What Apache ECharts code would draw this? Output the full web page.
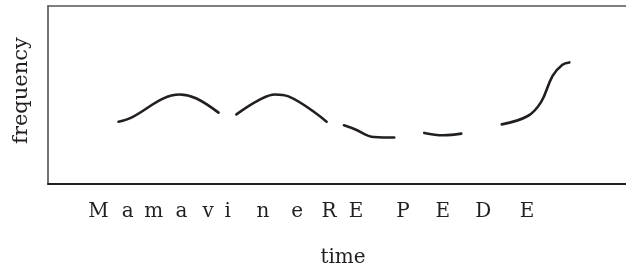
<!DOCTYPE html>
<html>
<head>
<meta charset="utf-8">
<script src="https://cdn.jsdelivr.net/npm/echarts@6/dist/echarts.min.js"></script>
<style>
  html, body { margin: 0; padding: 0; background: #fff; }
  #main { width: 626px; height: 273px; }
</style>
</head>
<body>
<div id="main"></div>
<script>
var chart = echarts.init(document.getElementById('main'));

// letters under the time axis and where they sit on it
var letters = ['M', 'a', 'm', 'a', 'v', 'i', 'n', 'e', 'R', 'E', 'P', 'E', 'D', 'E'];
var letterPos = [8.75, 13.8, 18.3, 23.1, 27.7, 31.1, 37.2, 43.1, 48.6, 53.3, 61.4, 68.3, 75.3, 82.9];

// pieces of the frequency contour, [time, frequency]
var seg1 = [[12.2, 35.0], [14.6, 37.6], [19.9, 48.0], [22.8, 50.3], [25.6, 48.2], [29.5, 40.1]];
var seg2 = [[32.6, 39.1], [36.4, 47.0], [39.3, 50.3], [41.6, 49.2], [48.2, 35.0]];
var seg3 = [[51.2, 33.0], [53.1, 30.8], [56.4, 26.4], [59.9, 26.1]];
var seg4 = [[65.1, 28.7], [68.4, 27.4], [71.5, 28.3]];
var seg5 = [[78.5, 33.5], [83.0, 38.2], [85.3, 46.0], [87.3, 60.8], [89.0, 67.0], [90.2, 68.3]];

var segments = [seg1, seg2, seg3, seg4, seg5];

var font = 'DejaVu Serif';

var series = segments.map(function (s) {
    return {
        type: 'line',
        data: s,
        smooth: 0.4,
        showSymbol: false,
        silent: true,
        lineStyle: { color: '#231f20', width: 2.6, cap: 'round' }
    };
});

var option = {
    animation: false,
    grid: { left: 48, right: 0, top: 6, bottom: 88 },
    xAxis: [{
        type: 'value',
        min: 0,
        max: 100,
        position: 'bottom',
        name: 'time',
        nameLocation: 'middle',
        nameGap: 64,
        nameTextStyle: { fontFamily: font, fontSize: 20, color: '#231f20', padding: [0, 0, 0, 12] },
        axisLine: { show: true, lineStyle: { color: '#231f20', width: 2 } },
        axisTick: { show: false },
        splitLine: { show: false },
        axisLabel: {
            customValues: letterPos,
            margin: 18,
            fontFamily: font,
            fontSize: 20,
            color: '#231f20',
            formatter: function (v) {
                var i = letterPos.indexOf(v);
                return i >= 0 ? letters[i] : '';
            }
        }
    }, {
        type: 'value',
        min: 0,
        max: 100,
        position: 'top',
        axisLine: { show: true, lineStyle: { color: '#555', width: 1.5 } },
        axisTick: { show: false },
        axisLabel: { show: false },
        splitLine: { show: false }
    }],
    yAxis: {
        type: 'value',
        min: 0,
        max: 100,
        name: 'frequency',
        nameLocation: 'middle',
        nameRotate: 90,
        nameGap: 16,
        nameTextStyle: { fontFamily: font, fontSize: 21, color: '#231f20', padding: [0, 0, 0, 9] },
        axisLine: { show: true, lineStyle: { color: '#444', width: 1.5 } },
        axisTick: { show: false },
        axisLabel: { show: false },
        splitLine: { show: false }
    },
    series: series
};

chart.setOption(option);
</script>
</body>
</html>
